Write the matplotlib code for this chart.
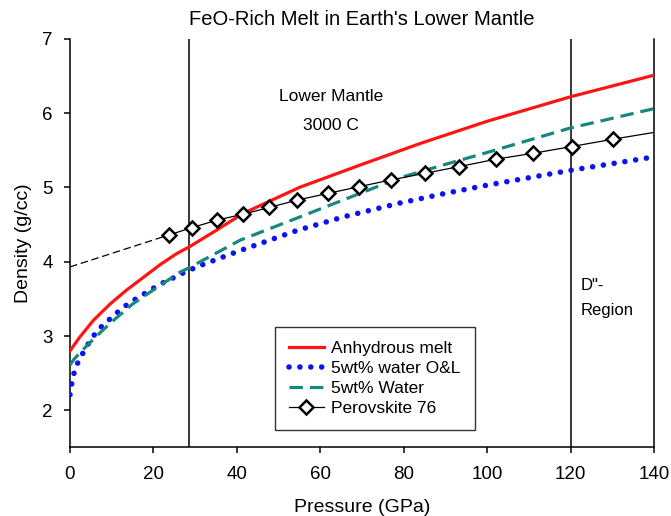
import matplotlib
matplotlib.use("Agg")
import matplotlib.pyplot as plt

plt.rcParams['font.family'] = ['Liberation Sans', 'DejaVu Sans']

# Anhydrous melt
p_anh = [0, 2.4, 5.6, 9.6, 13.6, 17.6, 21.6, 25.6, 28.6, 35, 41.5, 55, 70, 83.9, 100, 120, 140]
d_anh = [2.80, 2.99, 3.21, 3.43, 3.62, 3.79, 3.96, 4.11, 4.20, 4.42, 4.65, 5.00, 5.31, 5.59, 5.89, 6.22, 6.51]

# 5wt% water O&L
p_ol = [0, 0.4, 0.8, 1.6, 2.8, 4.1, 5.6, 7.6, 10.0, 12.2, 14.6, 17.0, 19.3, 21.7,
        24.0, 26.4, 28.8, 30.8, 40.8, 54.4, 66, 79.1, 90, 100, 120, 140]
d_ol = [2.21, 2.35, 2.47, 2.61, 2.74, 2.87, 3.00, 3.13, 3.25, 3.36, 3.46, 3.54, 3.62, 3.70,
        3.76, 3.83, 3.89, 3.94, 4.15, 4.42, 4.61, 4.79, 4.92, 5.03, 5.23, 5.41]

# 5wt% Water
p_w = [0, 1, 3, 6, 10, 15, 20, 26.4, 28.6, 40.8, 55, 70, 79.1, 90, 100, 120, 140]
d_w = [2.61, 2.69, 2.81, 2.98, 3.19, 3.43, 3.62, 3.86, 3.92, 4.29, 4.60, 4.93, 5.13, 5.31, 5.47, 5.80, 6.06]

# Perovskite 76
p_pv = [23.7, 29.3, 35.3, 41.5, 47.8, 54.5, 61.9, 69.3, 76.9, 85.1, 93.3, 102.1, 111.1, 120.3, 130.3]
d_pv = [4.36, 4.46, 4.56, 4.64, 4.73, 4.83, 4.92, 5.01, 5.10, 5.19, 5.28, 5.38, 5.46, 5.55, 5.65]
p_pv_end = 140
d_pv_end = 5.74
p_pv_extrap = [0, 23.7]
d_pv_extrap = [3.93, 4.36]

boundaries = [28.6, 120]
xticks = [0, 20, 40, 60, 80, 100, 120, 140]
yticks = [2, 3, 4, 5, 6, 7]

fig = plt.figure(figsize=(6.71, 5.16), dpi=100)
ax = fig.add_axes([0.1043, 0.1328, 0.8703, 0.792])

for b in boundaries:
    ax.axvline(b, color='black', lw=1.1, zorder=1)

ax.plot(p_anh, d_anh, color='#ff1414', lw=2.3, label='Anhydrous melt', zorder=3)
ax.plot(p_ol, d_ol, color='#0a14f0', lw=4.0, linestyle=(0, (0.01, 1.95)),
        dash_capstyle='round', label='5wt% water O&L', zorder=3)
ax.plot(p_w, d_w, color='#17877f', lw=2.3, linestyle=(0, (4.2, 2.2)),
        label='5wt% Water', zorder=3)
ax.plot(p_pv_extrap, d_pv_extrap, color='black', lw=0.9, linestyle=(0, (6, 3)), zorder=2)
ax.plot(p_pv + [p_pv_end], d_pv + [d_pv_end], color='black', lw=0.9, marker='D',
        markersize=7, markerfacecolor='white', markeredgecolor='black',
        markeredgewidth=1.8, markevery=list(range(len(p_pv))),
        label='Perovskite 76', zorder=4)

ax.set_xlim(0, 140)
ax.set_ylim(1.5, 7)
ax.set_xticks(xticks)
ax.set_yticks(yticks)
ax.spines['top'].set_visible(False)
for s in ['left', 'bottom', 'right']:
    ax.spines[s].set_linewidth(1.1)
ax.tick_params(direction='out', length=4.5, width=1.1, labelsize=13.5)
ax.tick_params(axis='x', pad=8.5)
ax.tick_params(axis='y', pad=8)

ax.set_xlabel('Pressure (GPa)', fontsize=14, labelpad=12)
ax.set_ylabel('Density (g/cc)', fontsize=14, labelpad=7)
ax.set_title("FeO-Rich Melt in Earth's Lower Mantle", fontsize=14.5, pad=10)

ax.text(62.6, 6.23, 'Lower Mantle', fontsize=12.5, ha='center', va='center')
ax.text(62.6, 5.83, '3000 C', fontsize=12.5, ha='center', va='center')
ax.text(122.3, 3.68, 'D"-', fontsize=12, ha='left', va='center')
ax.text(122.3, 3.34, 'Region', fontsize=12, ha='left', va='center')

leg = ax.legend(loc='lower left', bbox_to_anchor=(0.351, 0.043), fontsize=12.5,
                frameon=True, fancybox=False, edgecolor='black', handlelength=2.0,
                borderpad=0.8, labelspacing=0.28, handletextpad=0.45, borderaxespad=0)
leg.get_frame().set_linewidth(1.0)

fig.savefig('out.png', dpi=100)
